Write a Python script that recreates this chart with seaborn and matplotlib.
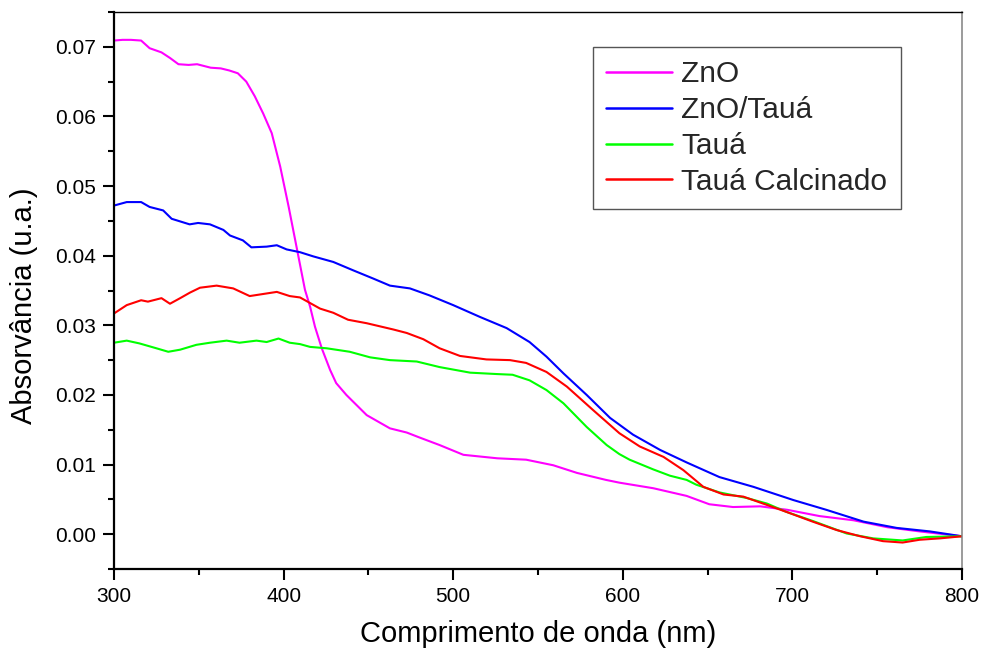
import matplotlib
matplotlib.use("Agg")
import matplotlib.pyplot as plt
from matplotlib.ticker import MultipleLocator, FormatStrFormatter
import numpy as np
import pandas as pd
import seaborn as sns

# UV-Vis absorbance spectra (wavelength in nm, absorbance in a.u.)
zno_nm = [300, 305, 310, 316, 321, 328, 333, 338, 344, 349, 357, 363, 368, 373,
          378, 383, 388, 393, 398, 403, 408, 412.6, 415.6, 418.5, 422.5, 427.4,
          431, 437, 449, 462.7, 472.6, 480, 492, 506, 526, 543, 559, 573, 590,
          598, 618, 637.6, 651, 665, 681, 697, 716, 736, 756, 775, 800]
zno_abs = [0.0709, 0.0710, 0.0710, 0.0709, 0.0698, 0.0692, 0.0684, 0.0675,
           0.0674, 0.0675, 0.0670, 0.0669, 0.0666, 0.0662, 0.0650, 0.0629,
           0.0604, 0.0576, 0.0528, 0.0470, 0.0408, 0.0351, 0.0327, 0.0298,
           0.0267, 0.0236, 0.0217, 0.0200, 0.0171, 0.0152, 0.0146, 0.0139,
           0.0128, 0.0114, 0.0109, 0.0107, 0.0099, 0.0088, 0.0078, 0.0074,
           0.0066, 0.0055, 0.0043, 0.0039, 0.0040, 0.0035, 0.0026, 0.0020,
           0.0010, 0.0004, -0.0003]

zno_taua_nm = [300, 307.5, 316, 321, 329, 334, 344.6, 349.6, 356.6, 364.5, 368.4,
               376, 381, 390, 396, 401.8, 409.7, 417.5, 429.3, 441, 453, 462.7,
               474.5, 486, 500, 515.8, 531.5, 545, 555, 565, 578.7, 592.5, 606,
               622, 637.7, 657, 677, 700.6, 720, 742, 761.5, 781, 800]
zno_taua_abs = [0.0472, 0.0477, 0.0477, 0.0470, 0.0465, 0.0453, 0.0445, 0.0447,
                0.0445, 0.0437, 0.0429, 0.0422, 0.0412, 0.0413, 0.0415, 0.0409,
                0.0405, 0.0399, 0.0391, 0.0379, 0.0367, 0.0357, 0.0353, 0.0343,
                0.0329, 0.0312, 0.0296, 0.0276, 0.0255, 0.0231, 0.0200, 0.0167,
                0.0143, 0.0121, 0.0103, 0.0082, 0.0068, 0.0049, 0.0035, 0.0018,
                0.0009, 0.0004, -0.0003]

taua_nm = [300, 307.5, 315, 325, 332, 339, 348.6, 356.6, 366.4, 374, 384, 390,
           397, 403.6, 409.7, 415.6, 425.4, 439, 451, 462.7, 478.5, 492, 510,
           525.6, 535, 545, 555, 565, 578.7, 590.5, 598, 604, 612, 618, 627.8,
           637.6, 643.4, 657, 673, 685, 696.5, 712, 732, 747.6, 765, 779, 800]
taua_abs = [0.0275, 0.0278, 0.0274, 0.0267, 0.0262, 0.0265, 0.0272, 0.0275,
            0.0278, 0.0275, 0.0278, 0.0276, 0.0281, 0.0275, 0.0273, 0.0269,
            0.0267, 0.0262, 0.0254, 0.0250, 0.0248, 0.0240, 0.0232, 0.0230,
            0.0229, 0.0221, 0.0207, 0.0188, 0.0154, 0.0128, 0.0115, 0.0107,
            0.0099, 0.0093, 0.0084, 0.0078, 0.0071, 0.0060, 0.0052, 0.0044,
            0.0032, 0.0019, 0.0001, -0.0006, -0.0009, -0.0004, -0.0003]

calc_nm = [300, 307.5, 316, 320, 328, 333, 339, 344.8, 350.7, 360.5, 370.3, 380,
           388, 396, 403.6, 409.7, 421.5, 429.3, 438, 449, 464.7, 472.6, 482.4,
           492, 504, 519.6, 533.5, 543, 555, 567, 582.6, 598, 610, 624, 635.7,
           647.5, 659.4, 671, 682.7, 696.5, 712, 726, 740, 753.4, 765, 775, 787,
           800]
calc_abs = [0.0317, 0.0329, 0.0336, 0.0334, 0.0339, 0.0331, 0.0339, 0.0347,
            0.0354, 0.0357, 0.0353, 0.0342, 0.0345, 0.0348, 0.0342, 0.0340,
            0.0324, 0.0318, 0.0308, 0.0303, 0.0294, 0.0289, 0.0280, 0.0267,
            0.0256, 0.0251, 0.0250, 0.0246, 0.0233, 0.0212, 0.0178, 0.0145,
            0.0126, 0.0111, 0.0092, 0.0068, 0.0057, 0.0054, 0.0044, 0.0032,
            0.0018, 0.0006, -0.0003, -0.0010, -0.0012, -0.0008, -0.0006, -0.0003]

series_names = ["ZnO", "ZnO/Tauá", "Tauá", "Tauá Calcinado"]
series_colors = ["#ff00ff", "#0000ff", "#00ff00", "#ff0000"]

frames = []
for name, xs, ys in zip(series_names,
                        [zno_nm, zno_taua_nm, taua_nm, calc_nm],
                        [zno_abs, zno_taua_abs, taua_abs, calc_abs]):
    frames.append(pd.DataFrame({"nm": xs, "abs": ys, "amostra": name}))
df = pd.concat(frames, ignore_index=True)

sns.set_style("white")
plt.rcParams["font.family"] = ["Liberation Sans", "DejaVu Sans"]

fig = plt.figure(figsize=(9.83, 6.58), dpi=100)
ax = fig.add_axes([114 / 983, 1 - 569 / 658, 848 / 983, 557 / 658])

sns.lineplot(data=df, x="nm", y="abs", hue="amostra", hue_order=series_names,
             palette=dict(zip(series_names, series_colors)), estimator=None,
             sort=True, linewidth=1.5, ax=ax)

ax.set_xlim(300, 800)
ax.set_ylim(-0.005, 0.075)
ax.xaxis.set_major_locator(MultipleLocator(100))
ax.xaxis.set_minor_locator(MultipleLocator(50))
ax.yaxis.set_major_locator(MultipleLocator(0.01))
ax.yaxis.set_minor_locator(MultipleLocator(0.005))
ax.yaxis.set_major_formatter(FormatStrFormatter("%.2f"))
ax.tick_params(which="both", direction="out", bottom=True, left=True,
               top=False, right=False, color="black", width=1.5,
               labelsize=15, labelcolor="black")
ax.tick_params(which="major", length=8, pad=5)
ax.tick_params(which="minor", length=4)

for side in ("left", "bottom"):
    ax.spines[side].set_color("black")
    ax.spines[side].set_linewidth(1.6)
ax.spines["top"].set_visible(True)
ax.spines["top"].set_color("black")
ax.spines["top"].set_linewidth(1.0)
ax.spines["right"].set_color("#808080")
ax.spines["right"].set_linewidth(1.1)

ax.set_xlabel("Comprimento de onda (nm)", fontsize=21, color="black")
ax.set_ylabel("Absorvância (u.a.)", fontsize=21, color="black")
ax.xaxis.label.set_va("center")
ax.yaxis.label.set_va("center")
ax.xaxis.set_label_coords(0.5, (569 - 634) / 557)
ax.yaxis.set_label_coords((24 - 114) / 848, (569 - 306) / 557)

sns.move_legend(ax, "upper left", bbox_to_anchor=((593 - 114) / 848, (569 - 47) / 557),
                borderaxespad=0, title=None, frameon=True, fontsize=21.5,
                handlelength=2.2, handletextpad=0.3, labelspacing=0.26,
                borderpad=0.45, fancybox=False, edgecolor="#555555",
                framealpha=1)
leg = ax.get_legend()
leg.get_frame().set_linewidth(1.0)
for h in leg.legend_handles:
    h.set_linewidth(1.8)

fig.savefig("out.png", dpi=100, facecolor="white")
